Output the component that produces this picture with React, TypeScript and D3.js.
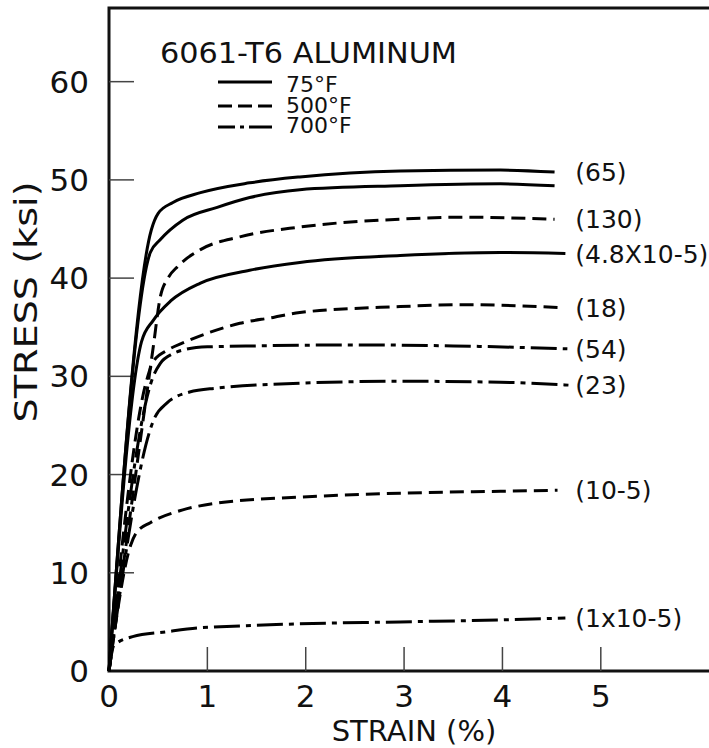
import React from "react";
import * as d3 from "d3";

// strain (%) vs stress (ksi)
const solid65: [number, number][] = [
  [0, 0], [0.43, 44.9], [0.5, 46.6], [0.65, 47.7], [0.93, 48.7], [1.43, 49.7],
  [1.94, 50.3], [2.96, 50.9], [3.98, 51.0], [4.53, 50.8],
];
const solidB: [number, number][] = [
  [0, 0], [0.42, 42.6], [0.52, 43.9], [0.75, 45.9], [1.1, 47.2], [1.43, 48.2],
  [1.94, 49.0], [2.96, 49.4], [3.98, 49.6], [4.53, 49.4],
];
const dashed130: [number, number][] = [
  [0, 0], [0.45, 33], [0.52, 38], [0.6, 40], [0.7, 41.2], [0.93, 42.9], [1.33, 44.2],
  [1.94, 45.2], [2.96, 46.0], [3.6, 46.2], [4.53, 46.0],
];
const solid48: [number, number][] = [
  [0, 0], [0.33, 33.5], [0.45, 35.7], [0.63, 37.7], [0.93, 39.5], [1.43, 40.8],
  [1.94, 41.6], [2.96, 42.3], [3.98, 42.6], [4.64, 42.5],
];
const dashed18: [number, number][] = [
  [0, 0], [0.38, 29.5], [0.45, 31.5], [0.6, 32.7], [0.75, 33.4], [1.03, 34.5],
  [1.33, 35.4], [1.67, 36.0], [1.94, 36.5], [2.96, 37.1], [3.6, 37.3], [4.6, 37.0],
];
const dashdot54: [number, number][] = [
  [0, 0], [0.45, 30], [0.52, 31.3], [0.65, 32.3], [0.76, 32.7], [1.0, 33.0],
  [1.5, 33.1], [2.5, 33.2], [3.5, 33.1], [4.66, 32.8],
];
const dashdot23: [number, number][] = [
  [0, 0], [0.47, 25.9], [0.59, 27.3], [0.82, 28.4], [1.1, 28.8], [1.94, 29.3],
  [2.96, 29.5], [3.98, 29.4], [4.68, 29.1],
];
const dashed105: [number, number][] = [
  [0, 0], [0.22, 12.8], [0.28, 14.1], [0.42, 15.1], [0.75, 16.4], [1.1, 17.1],
  [1.94, 17.7], [2.96, 18.1], [3.98, 18.3], [4.56, 18.4],
];
const dashdot1: [number, number][] = [
  [0, 0], [0.05, 2.6], [0.24, 3.5], [0.59, 4.0], [0.93, 4.4], [1.13, 4.5],
  [1.94, 4.8], [2.96, 5.0], [3.98, 5.2], [4.64, 5.4],
];

const curveData = [solid65, solidB, dashed130, solid48, dashed18, dashdot54, dashdot23, dashed105, dashdot1];
const curveTemps = ["75", "75", "500", "75", "500", "700", "700", "500", "700"];
const curveLabels = ["(65)", "", "(130)", "(4.8X10-5)", "(18)", "(54)", "(23)", "(10-5)", "(1x10-5)"];

const legendTemps = ["75", "500", "700"];
const legendNames = ["75°F", "500°F", "700°F"];
const title = "6061-T6 ALUMINUM";

const yTickVals = [0, 10, 20, 30, 40, 50, 60];
const xTickVals = [0, 1, 2, 3, 4, 5];

const dashFor: Record<string, string> = {
  "75": "none",
  "500": "14,7",
  "700": "26,6,5,6",
};

const FONT = "DejaVu Sans, sans-serif";

export default function App() {
  const x = d3.scaleLinear().domain([0, 6.1]).range([109, 709]);
  const y = d3.scaleLinear().domain([0, 67.5]).range([671, 8]);
  const line = d3
    .line<[number, number]>()
    .x((d) => x(d[0]))
    .y((d) => y(d[1]))
    .curve(d3.curveMonotoneX);

  const labelX = x(4.74);

  return (
    <svg width={709} height={748} style={{ position: "absolute", left: 0, top: 0, background: "#fff" }}>
      {/* frame */}
      <path d={`M709,${y(67.5)}H${x(0)}V${y(0)}H709`} fill="none" stroke="#111" strokeWidth={3} />
      {/* ticks */}
      {yTickVals.filter((v) => v > 0).map((v) => (
        <line key={"yt" + v} x1={x(0)} x2={x(0) + 25} y1={y(v)} y2={y(v)} stroke="#444" strokeWidth={1.5} />
      ))}
      {xTickVals.filter((v) => v > 0).map((v) => (
        <line key={"xt" + v} x1={x(v)} x2={x(v)} y1={y(0)} y2={y(0) - 24} stroke="#444" strokeWidth={1.5} />
      ))}
      {yTickVals.map((v) => (
        <text key={"yl" + v} x={89} y={y(v) + 11} textAnchor="end" fontFamily={FONT} fontSize={31} fill="#111">
          {v}
        </text>
      ))}
      {xTickVals.map((v) => (
        <text key={"xl" + v} x={x(v)} y={707} textAnchor="middle" fontFamily={FONT} fontSize={31} fill="#111">
          {v}
        </text>
      ))}
      <text x={414} y={741} textAnchor="middle" fontFamily={FONT} fontSize={29} fill="#111">
        STRAIN (%)
      </text>
      <text
        transform="translate(37,302) rotate(-90)"
        textAnchor="middle"
        fontFamily={FONT}
        fontSize={32}
        fill="#111"
        textLength={241}
        lengthAdjust="spacingAndGlyphs"
      >
        STRESS (ksi)
      </text>

      {/* curves */}
      {curveData.map((pts, i) => (
        <path
          key={"c" + i}
          d={line(pts) || ""}
          fill="none"
          stroke="#000"
          strokeWidth={3}
          strokeDasharray={dashFor[curveTemps[i]]}
          strokeLinejoin="round"
        />
      ))}
      {curveData.map((pts, i) =>
        curveLabels[i] ? (
          <text key={"cl" + i} x={labelX} y={y(pts[pts.length - 1][1]) + 9} fontFamily={FONT} fontSize={25} fill="#111">
            {curveLabels[i]}
          </text>
        ) : null
      )}

      {/* legend */}
      <text x={160} y={63} fontFamily={FONT} fontSize={29} fill="#111" textLength={297} lengthAdjust="spacingAndGlyphs">
        {title}
      </text>
      {legendTemps.map((t, i) => {
        const ly = [82, 106, 127][i];
        const ty = [92, 113, 133][i];
        return (
          <g key={"lg" + t}>
            <line x1={218} x2={272} y1={ly} y2={ly} stroke="#000" strokeWidth={3} strokeDasharray={t === "700" ? "17,5,4,5,30" : t === "500" ? "14,6" : "none"} />
            <text x={286} y={ty} fontFamily={FONT} fontSize={22} fill="#111">
              {legendNames[i]}
            </text>
          </g>
        );
      })}
    </svg>
  );
}
